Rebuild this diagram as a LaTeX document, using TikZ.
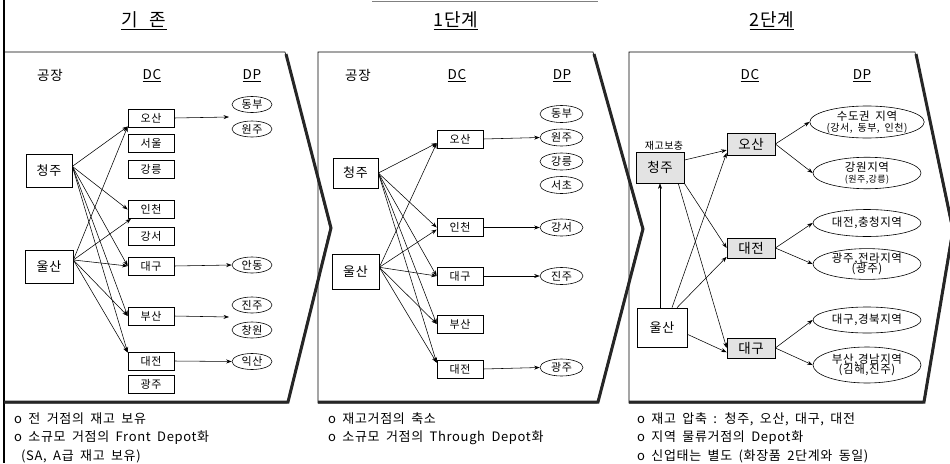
\documentclass[tikz,border=0pt]{standalone}
\usepackage{fontspec}
\setmainfont{Noto Sans CJK KR}[LetterSpace=5,WordSpace=1.8]
\usetikzlibrary{arrows.meta,shapes.geometric,calc}
\begin{document}
\begin{tikzpicture}[x=1pt,y=-1pt,
  dcbox/.style={draw,line width=0.6pt,minimum width=46pt,minimum height=18pt,inner sep=0pt,fill=white,font=\fontsize{11}{12}\selectfont},
  factory/.style={draw,line width=0.7pt,minimum width=46pt,minimum height=33pt,inner sep=0pt,font=\fontsize{13}{14}\selectfont},
  dpell/.style={ellipse,draw,line width=0.6pt,minimum width=40pt,minimum height=16pt,inner sep=0pt,font=\fontsize{11}{12}\selectfont},
  bigell/.style={ellipse,draw,line width=0.6pt,minimum width=108pt,inner sep=0pt,align=center,font=\fontsize{11.5}{13}\selectfont},
  shbox/.style={draw,line width=0.7pt,minimum width=48pt,minimum height=21pt,inner sep=0pt,fill=gray!22,font=\fontsize{13.5}{14}\selectfont},
  arr/.style={-{Stealth[length=5.5pt,width=4pt]},line width=0.55pt},
  hdr/.style={font=\fontsize{13.5}{15}\selectfont,inner sep=0pt},
  ttl/.style={font=\fontsize{18}{20}\selectfont,inner sep=0pt},
  note/.style={anchor=west,inner sep=0pt,font=\fontsize{13}{14}\selectfont},
  edge/.style={line width=0.6pt},
  shadow/.style={line width=3pt,line join=miter,black!85}
]
\useasboundingbox (0,0) rectangle (950,463);
\fill[white] (0,0) rectangle (950,463);

% page border and top line
\draw[line width=1.6pt] (4,0) -- (4,463);
\draw[gray,line width=0.8pt] (372,1) -- (598,1);

% panels
\draw[edge] (4,52) -- (285,52) -- (330,228) -- (287,403) -- (4,403);
\draw[edge] (318,52) -- (593,52) -- (642,229) -- (597,403) -- (318,403) -- cycle;
\draw[edge] (629,52) -- (915,52) -- (952,230) -- (923,403) -- (629,403) -- cycle;
\draw[shadow] (286,54) -- (331,228) -- (288,402) -- (4,402);
\draw[shadow] (594,54) -- (643,229) -- (598,402) -- (318,402);
\draw[shadow] (916,54) -- (953,230) -- (924,402) -- (629,402);

% titles
\node[ttl] (t1) at (144,21) {\underline{기\hspace{12pt}존}};
\node[ttl] (t2) at (456,21) {\underline{1단계}};
\node[ttl] (t3) at (772,21) {\underline{2단계}};

% ---------- panel 1 ----------
\node[hdr] (h1a) at (50,75) {공장};
\node[hdr] (h1b) at (152,76) {\underline{DC}};
\node[hdr] (h1c) at (252,76) {\underline{DP}};

\node[factory] (c1) at (49,170.5) {청주};
\node[factory,minimum width=48pt] (u1) at (49,266.5) {울산};

\node[dcbox] (o1) at (151,118) {오산};
\node[dcbox] (s1) at (151,143.5) {서울};
\node[dcbox] (k1) at (151,169) {강릉};
\node[dcbox] (i1) at (151,209.5) {인천};
\node[dcbox] (g1s) at (151,236.5) {강서};
\node[dcbox] (g1) at (151,266) {대구};
\node[dcbox] (b1) at (151,316) {부산};
\node[dcbox] (d1) at (151,361) {대전};
\node[dcbox] (kj1) at (151,384) {광주};

\node[dpell] (p1a) at (252,104.5) {동부};
\node[dpell] (p1b) at (252,129) {원주};
\node[dpell] (p1c) at (252,265) {안동};
\node[dpell] (p1d) at (252,305) {진주};
\node[dpell] (p1e) at (252,330) {창원};
\node[dpell] (p1f) at (252,361.5) {익산};
\coordinate (q1a) at (229,117);
\coordinate (q1b) at (229,317);

\draw[arr] (o1.east) -- (q1a);
\draw[arr] (g1.east) -- (p1c.west);
\draw[arr] (b1.east) -- (q1b);
\draw[arr] (d1.east) -- (p1f.west);

\foreach \t/\a in {o1/200,i1/180,g1/180,b1/180,d1/160}{
  \draw[arr] (c1.10) -- (\t.\a);
}
\foreach \t/\a in {o1/200,i1/205,g1/180,b1/180,d1/160}{
  \draw[arr] (u1.15) -- (\t.\a);
}

\node[note] (n1a) at (14,419) {o 전 거점의 재고 보유};
\node[note] (n1b) at (14,438) {o 소규모 거점의 Front Depot화};
\node[note] (n1c) at (21,456) {(SA, A급 재고 보유)};

% ---------- panel 2 ----------
\node[hdr] (h2a) at (358,75) {공장};
\node[hdr] (h2b) at (457,76) {\underline{DC}};
\node[hdr] (h2c) at (562,76) {\underline{DP}};

\node[factory,minimum width=45pt,minimum height=30pt] (c2) at (355.5,173) {청주};
\node[factory,minimum width=47pt,minimum height=35pt] (u2) at (355.5,271.5) {울산};

\node[dcbox] (o2) at (460,139) {오산};
\node[dcbox] (i2) at (460,227.5) {인천};
\node[dcbox] (g2) at (460,276) {대구};
\node[dcbox] (b2) at (460,324) {부산};
\node[dcbox] (d2) at (460,369) {대전};

\node[dpell,minimum width=43pt,minimum height=17pt] (p2a) at (561.5,114) {동부};
\node[dpell,minimum width=43pt,minimum height=17pt] (p2b) at (561.5,137.5) {원주};
\node[dpell,minimum width=43pt,minimum height=17pt] (p2c) at (561.5,161.5) {강릉};
\node[dpell,minimum width=43pt,minimum height=17pt] (p2d) at (561.5,185) {서초};
\node[dpell,minimum width=43pt,minimum height=17pt] (p2e) at (561.5,227.5) {강서};
\node[dpell,minimum width=43pt,minimum height=17pt] (p2f) at (561.5,276) {진주};
\node[dpell,minimum width=43pt,minimum height=17pt] (p2g) at (561.5,367.5) {광주};

\draw[arr] (o2.east) -- (p2b.west);
\draw[arr] (i2.east) -- (p2e.west);
\draw[arr] (g2.east) -- (p2f.west);
\draw[arr] (d2.east) -- (p2g.west);

\foreach \t/\a in {o2/190,i2/180,g2/180,b2/180,d2/165}{
  \draw[arr] (c2.east) -- (\t.\a);
}
\foreach \t/\a in {o2/190,i2/185,g2/180,b2/180,d2/165}{
  \draw[arr] (u2.10) -- (\t.\a);
}

\node[note] (n2a) at (328,419) {o 재고거점의 축소};
\node[note] (n2b) at (328,438) {o 소규모 거점의 Through Depot화};

% ---------- panel 3 ----------
\node[hdr] (h3b) at (750,76) {\underline{DC}};
\node[hdr] (h3c) at (862,76) {\underline{DP}};

\node[shbox,minimum height=31pt] (c3) at (660,167.5) {청주};
\node[font=\fontsize{10}{11}\selectfont,inner sep=0pt] (lab3) at (664,146) {재고보충};
\node[factory,minimum width=50pt,minimum height=39pt] (u3) at (662,327.5) {울산};

\node[shbox,minimum height=22pt] (o3) at (751,144) {오산};
\node[shbox,minimum height=20pt] (d3) at (751,248) {대전};
\node[shbox,minimum height=20pt] (g3) at (751,348) {대구};

\node[bigell,minimum height=32pt] (e1) at (867,122) {수도권 지역\\[-2pt]{\fontsize{10}{11}\selectfont (강서, 동부, 인천)}};
\node[bigell,minimum height=29pt] (e2) at (867,173) {강원지역\\[-2pt]{\fontsize{9}{10}\selectfont (원주,강릉)}};
\node[bigell,minimum height=27pt] (e3) at (867,223) {대전,충청지역};
\node[bigell,minimum height=30pt] (e4) at (867,264) {광주,전라지역\\[-3pt](광주)};
\node[bigell,minimum height=26pt] (e5) at (867,320) {대구,경북지역};
\node[bigell,minimum height=36pt] (e6) at (867,365) {부산,경남지역\\[-3pt](김해,진주)};

\draw[arr] (o3.east) -- (e1.west);
\draw[arr] (o3.east) -- (e2.west);
\draw[arr] (d3.east) -- (e3.west);
\draw[arr] (d3.east) -- (e4.west);
\draw[arr] (g3.east) -- (e5.west);
\draw[arr] (g3.east) -- (e6.west);

\draw[arr] (c3.17) -- (o3.194);
\draw[arr] (c3.south east) -- (d3.west);
\draw[arr] (c3.-41) -- (g3.west);
\draw[arr] (u3.north -| c3.south) -- (c3.south);
\draw[arr] ($(u3.north)+(10,0)$) -- (o3.200);
\draw[arr] ($(u3.north)+(15,0)$) -- (d3.200);
\draw[arr] (u3.-15) -- (g3.190);

\node[note] (n3a) at (637,419) {o 재고 압축 : 청주, 오산, 대구, 대전};
\node[note] (n3b) at (637,438) {o 지역 물류거점의 Depot화};
\node[note] (n3c) at (637,456) {o 신업태는 별도 (화장품 2단계와 동일)};
\end{tikzpicture}
\end{document}
